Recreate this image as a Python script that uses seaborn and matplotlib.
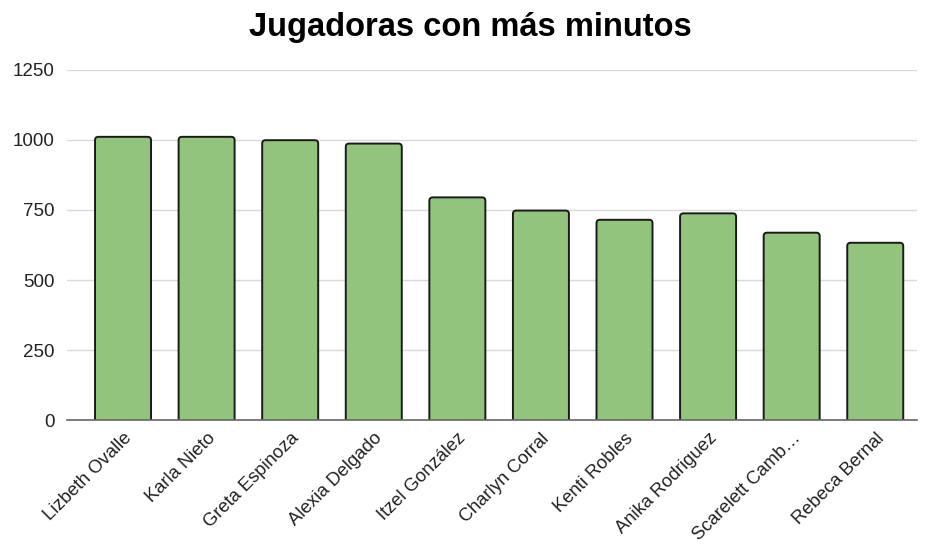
import matplotlib
matplotlib.use("Agg")
import matplotlib.pyplot as plt
from matplotlib.patches import FancyBboxPatch
import seaborn as sns
import pandas as pd

players = ["Lizbeth Ovalle", "Karla Nieto", "Greta Espinoza", "Alexia Delgado",
           "Itzel González", "Charlyn Corral", "Kenti Robles", "Anika Rodriguez",
           "Scarelett Camb…", "Rebeca Bernal"]
minutes = [1011, 1011, 999, 987, 795, 748, 715, 738, 669, 633]
yticks = [0, 250, 500, 750, 1000, 1250]

df = pd.DataFrame({"Jugadora": players, "Minutos": minutes})

sns.set_theme(style="white")
plt.rcParams["font.family"] = ["Liberation Sans", "DejaVu Sans"]

fig = plt.figure(figsize=(9.31, 5.5), dpi=100)
ax = fig.add_axes([0.072, 0.236, 0.913, 0.637])

sns.barplot(data=df, x="Jugadora", y="Minutos", ax=ax, color="#93c47d",
            saturation=1, width=0.67, edgecolor="#1a1a1a", linewidth=1.4, zorder=3)

ax.set_ylim(0, 1250)
ax.set_xlim(-0.67, 9.5)

# replace rectangles by slightly rounded boxes
for p in list(ax.patches):
    x0, y0 = p.get_x(), p.get_y()
    w, h = p.get_width(), p.get_height()
    fb = FancyBboxPatch((x0, y0 - 20), w, h + 20,
                        boxstyle="round,pad=0,rounding_size=0.04",
                        mutation_aspect=300,
                        facecolor=p.get_facecolor(), edgecolor="#1a1a1a",
                        linewidth=1.4, zorder=3)
    p.remove()
    ax.add_patch(fb)

ax.set_yticks(yticks)
ax.set_yticklabels([str(t) for t in yticks], fontsize=13.5, color="#222222")
ax.yaxis.grid(True, color="#d9d9d9", linewidth=1, zorder=0)
ax.set_xticks(range(len(players)))
ax.set_xticklabels(players, rotation=45, ha="right", rotation_mode="anchor",
                   fontsize=13.2, color="#222222")
ax.tick_params(axis="y", length=0, pad=9)
ax.tick_params(axis="x", length=0, pad=7)
ax.set_xlabel("")
ax.set_ylabel("")
for s in ["top", "right", "left"]:
    ax.spines[s].set_visible(False)
ax.spines["bottom"].set_color("#666666")
ax.spines["bottom"].set_linewidth(1.2)
ax.spines["bottom"].set_zorder(4)

fig.suptitle("Jugadoras con más minutos", fontsize=23.5, fontweight="bold",
             x=0.505, y=0.978, color="#000000")

fig.savefig("out.png", dpi=100)
